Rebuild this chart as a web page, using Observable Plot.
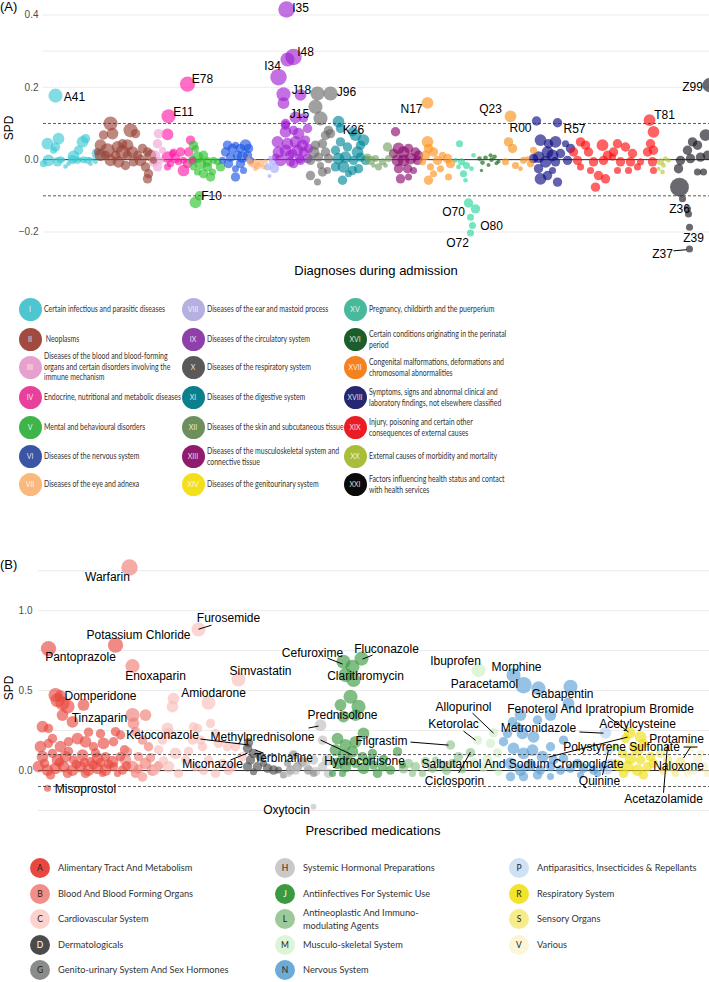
<!DOCTYPE html>
<html><head><meta charset="utf-8">
<script src="https://cdn.jsdelivr.net/npm/d3@7"></script>
<script src="https://cdn.jsdelivr.net/npm/@observablehq/plot@0.6"></script>
<style>
body{margin:0;background:#fff;}
#root{position:relative;width:709px;height:982px;overflow:hidden;background:#fff;font-family:"Liberation Sans",Arial,sans-serif;}
#root svg{position:absolute;left:0;}
.abs{position:absolute;white-space:nowrap;color:#000;}
.tag{font-size:13px;line-height:16px;}
.ytitle{font-size:12px;transform:translate(-50%,-50%) rotate(-90deg);}
.xtitle{font-size:13px;transform:translate(-50%,-50%);}
.lg-dot{position:absolute;border-radius:50%;display:flex;align-items:center;justify-content:center;font-family:Lato,sans-serif;}
.lg-txt{position:absolute;font-family:Lato,sans-serif;color:#333;white-space:pre;transform:translateY(-50%);transform-origin:left center;}
</style></head>
<body><div id="root"></div>
<script>
// ---------------- Panel A: diagnoses ----------------
const diagChapters = ["I","II","III","IV","V","VI","VII","VIII","IX","X","XI","XII","XIII","XIV","XV","XVI","XVII","XVIII","XIX","XX","XXI"];
const diagChapterNames = [
  "Certain infectious and parasitic diseases",
  " Neoplasms",
  "Diseases of the blood and blood-forming\norgans and certain disorders involving the\nimmune mechanism",
  "Endocrine, nutritional and metabolic diseases",
  "Mental and behavioural disorders",
  "Diseases of the nervous system",
  "Diseases of the eye and adnexa",
  "Diseases of the ear and mastoid process",
  "Diseases of the circulatory system",
  "Diseases of the respiratory system",
  "Diseases of the digestive system",
  "Diseases of the skin and subcutaneous tissue",
  "Diseases of the musculoskeletal system and\nconnective tissue",
  "Diseases of the genitourinary system",
  "Pregnancy, childbirth and the puerperium",
  "Certain conditions originating in the perinatal\nperiod",
  "Congenital malformations, deformations and\nchromosomal abnormalities",
  "Symptoms, signs and abnormal clinical and\nlaboratory findings, not elsewhere classified",
  "Injury, poisoning and certain other\nconsequences of external causes",
  "External causes of morbidity and mortality",
  "Factors influencing health status and contact\nwith health services"
];
const diagLegendColors = ["#4fc6cf","#a04a40","#e7a1cf","#e8409d","#3db54a","#3a55a6","#f9b87c","#b4b1e1","#8f3fa9","#595959","#0b7f8c","#6c8f5b","#8e1b6b","#f3e01b","#49b99b","#1b5e2b","#f48221","#242870","#ec1c24","#a9bd3b","#0b0b0b"];
const diagPointColors = ["#3cc8d4","#9a4436","#f0a2d8","#ff1aa6","#2cc02c","#1a55e4","#ffae6a","#a6a6ff","#a020d2","#6a6a6a","#00869a","#73a262","#8c0a6e","#ff921c","#2ad49e","#0a640a","#f5921a","#0a0a80","#ff0a0a","#b4c83a","#14141e"];
// [chapter, code order, SPD, n]
const diagPoints = [
["I",12,0.177,180],["I",4,0.044,125],["I",15,0.058,125],["I",12,0.035,80],["I",10,0.026,45],["I",5,-0.002,125],["I",14,-0.006,80],["I",22,-0.019,20],["I",29,0,80],["I",30,0.009,125],["I",34,-0.002,45],["I",35,0.026,80],["I",39,0.049,125],["I",42,0.058,80],["I",44,-0.002,45],["I",47,-0.011,20],["I",52,-0.006,20],["I",54,0.017,125],["I",17,0,45],["I",25,-0.011,20],["I",40,0,45],["I",0,-0.011,45],["I",20,0,15],["I",37,0,15],["I",49,0,15],["I",46,0.002,15],
["II",67,0.1,180],["II",69,0.072,125],["II",60,0.068,80],["II",87,0.081,180],["II",92,0.072,80],["II",57,0.04,125],["II",64,0.026,180],["II",74,0.035,125],["II",79,0.021,180],["II",84,0.04,125],["II",89,0.021,125],["II",94,0.012,80],["II",99,0.031,80],["II",104,0.021,80],["II",107,0.012,125],["II",57,0.012,125],["II",67,-0.002,125],["II",75,-0.006,125],["II",82,-0.016,80],["II",90,-0.006,80],["II",97,-0.002,125],["II",102,-0.02,80],["II",105,-0.039,80],["II",104,-0.053,80],["II",62,0.012,80],["II",84,0.012,80],["II",72,0.012,80],["II",54,0.021,45],["II",110,-0.002,45],["II",79,0.044,80],
["III",115,0.072,80],["III",114,0.044,80],["III",112,0.012,80],["III",114,-0.02,80],["III",117,-0.002,45],["III",119,0.026,45],["III",110,-0.006,80],
["IV",144,0.209,210],["IV",125,0.12,180],["IV",124,0.07,125],["IV",124,0.007,125],["IV",129,0.017,45],["IV",132,0.003,80],["IV",137,0.021,80],["IV",140,-0.03,125],["IV",140,-0.002,45],["IV",135,-0.006,45],["IV",147,0.054,80],["IV",145,0.021,80],["IV",144,-0.011,80],["IV",124,-0.02,45],["IV",130,0.021,45],["IV",149,-0.002,45],["IV",127,-0.011,45],
["V",152,-0.118,125],["V",156,-0.1,80],["V",150,0.04,80],["V",152,0.031,45],["V",154,0.007,125],["V",160,0.012,80],["V",157,-0.011,125],["V",164,-0.02,80],["V",167,-0.048,80],["V",160,-0.039,80],["V",154,-0.034,45],["V",170,-0.002,45],["V",177,-0.02,80],["V",174,-0.006,45],["V",149,-0.002,80],["V",164,-0.006,80],["V",169,-0.034,45],["V",150,-0.02,45],
["VI",184,0.04,80],["VI",189,0.031,80],["VI",192,0.04,45],["VI",197,0.031,80],["VI",202,0.04,125],["VI",205,0.031,80],["VI",182,0.021,80],["VI",187,0.007,80],["VI",194,0.012,80],["VI",199,0.007,125],["VI",204,0.012,80],["VI",185,-0.011,80],["VI",192,-0.025,45],["VI",192,-0.048,80],["VI",197,-0.011,80],["VI",207,-0.002,45],["VI",179,-0.002,45],["VI",200,-0.03,45],
["VII",207,-0.008,45],["VII",210,-0.01,80],["VII",214,-0.017,45],["VII",217,-0.01,45],["VII",220,-0.02,20],["VII",212,-0.025,20],["VII",205,0.002,20],["VII",222,-0.005,20],
["VIII",224,-0.02,45],["VIII",226,-0.045,15],["VIII",229,-0.005,45],["VIII",231,-0.024,80],["VIII",227,0.004,20],
["IX",243,0.415,245],["IX",250,0.284,245],["IX",244,0.277,180],["IX",235,0.228,245],["IX",240,0.181,180],["IX",257,0.179,125],["IX",240,0.156,125],["IX",252,0.117,125],["IX",242,0.095,80],["IX",260,0.115,80],["IX",242,0.1,80],["IX",242,0.077,125],["IX",250,0.081,80],["IX",255,0.072,125],["IX",264,0.086,80],["IX",234,0.049,125],["IX",244,0.044,125],["IX",252,0.049,125],["IX",259,0.04,125],["IX",262,0.054,80],["IX",235,0.021,125],["IX",242,0.026,125],["IX",249,0.017,80],["IX",254,0.026,125],["IX",260,0.021,80],["IX",265,0.031,80],["IX",237,-0.002,125],["IX",247,-0.006,80],["IX",250,-0.011,80],["IX",257,-0.002,80],["IX",264,0.003,80],["IX",232,0.007,45],["IX",246,0.012,80],["IX",256,0.003,80],
["X",287,0.183,180],["X",274,0.183,180],["X",272,0.146,180],["X",277,0.114,180],["X",285,0.081,80],["X",282,0.067,80],["X",287,0.072,80],["X",272,0.04,80],["X",279,0.044,80],["X",270,0.021,125],["X",282,0.021,80],["X",267,-0.002,80],["X",275,0.007,80],["X",285,0.003,80],["X",277,-0.016,45],["X",279,-0.034,80],["X",267,-0.044,80],["X",274,-0.062,45],["X",284,-0.03,45],
["XI",295,0.105,125],["XI",297,0.086,80],["XI",309,0.077,80],["XI",312,0.068,125],["XI",320,0.054,125],["XI",317,0.04,80],["XI",297,0.049,80],["XI",292,0.026,80],["XI",304,0.035,80],["XI",314,0.021,125],["XI",295,0.003,125],["XI",302,0.007,125],["XI",310,-0.002,80],["XI",317,0.007,80],["XI",292,-0.02,80],["XI",300,-0.02,125],["XI",309,-0.03,80],["XI",315,-0.025,80],["XI",299,-0.057,80],["XI",305,-0.039,45],["XI",322,-0.002,80],
["XII",324,0.007,45],["XII",327,-0.002,80],["XII",332,0.003,45],["XII",335,-0.02,45],["XII",339,-0.006,45],["XII",344,0.035,80],["XII",345,0.003,45],["XII",342,-0.016,20],["XII",330,-0.016,20],["XII",349,0.017,20],
["XIII",352,0.077,80],["XIII",350,0.017,80],["XIII",355,0.031,125],["XIII",360,0.021,125],["XIII",365,0.031,80],["XIII",372,0.021,80],["XIII",354,-0.002,125],["XIII",360,-0.002,125],["XIII",367,0.003,125],["XIII",374,-0.002,80],["XIII",355,-0.025,80],["XIII",364,-0.025,80],["XIII",357,-0.053,80],["XIII",365,-0.048,45],["XIII",370,-0.03,45],["XIII",375,0.012,80],
["XIV",384,0.157,125],["XIV",384,0.049,125],["XIV",385,0.031,80],["XIV",382,0.012,80],["XIV",390,0.021,80],["XIV",394,-0.002,80],["XIV",399,0.012,45],["XIV",404,0.003,80],["XIV",407,-0.011,80],["XIV",387,-0.02,45],["XIV",390,-0.039,45],["XIV",385,-0.057,80],["XIV",397,-0.025,45],["XIV",405,-0.048,45],["XIV",379,-0.006,45],
["XV",425,-0.12,80],["XV",432,-0.136,80],["XV",427,-0.159,45],["XV",429,-0.182,45],["XV",427,-0.203,45],["XV",416,0.044,45],["XV",418,-0.006,45],["XV",423,-0.016,45],["XV",415,-0.02,20],["XV",420,-0.039,45],["XV",430,0.012,20],["XV",428,-0.025,20],["XV",422,-0.057,20],["XV",412,-0.002,20],
["XVI",436,0.003,20],["XVI",439,-0.008,20],["XVI",442,0.005,20],["XVI",445,-0.015,15],["XVI",448,0,20],["XVI",451,0.008,20],["XVI",455,-0.005,15],["XVI",438,-0.03,10],["XVI",447,0.012,15],["XVI",453,-0.01,15],
["XVII",467,0.12,125],["XVII",465,0.049,80],["XVII",469,0.031,80],["XVII",490,0.026,45],["XVII",462,-0.006,45],["XVII",472,-0.016,45],["XVII",480,-0.002,45],["XVII",487,-0.011,45],["XVII",477,-0.025,20],["XVII",484,0.003,20],
["XVIII",493,0.107,80],["XVIII",514,0.102,80],["XVIII",497,0.054,125],["XVIII",505,0.044,80],["XVIII",512,0.049,125],["XVIII",522,0.044,45],["XVIII",527,0.031,80],["XVIII",495,0.007,125],["XVIII",504,0.021,125],["XVIII",509,0.012,125],["XVIII",517,0.017,80],["XVIII",502,-0.006,125],["XVIII",512,-0.006,80],["XVIII",524,-0.002,80],["XVIII",495,-0.025,80],["XVIII",497,-0.053,125],["XVIII",504,-0.044,80],["XVIII",514,-0.062,80],["XVIII",509,-0.03,45],["XVIII",490,0.003,80],
["XIX",606,0.109,125],["XIX",610,0.077,125],["XIX",537,0.049,80],["XIX",542,0.04,80],["XIX",559,0.04,125],["XIX",574,0.044,80],["XIX",582,0.035,80],["XIX",607,0.044,80],["XIX",530,0.021,80],["XIX",545,0.021,80],["XIX",564,0.012,80],["XIX",570,0.021,80],["XIX",589,0.017,80],["XIX",604,0.021,80],["XIX",610,0.026,80],["XIX",534,-0.002,80],["XIX",550,-0.006,80],["XIX",560,-0.002,80],["XIX",577,-0.006,80],["XIX",587,-0.006,80],["XIX",597,-0.006,45],["XIX",609,-0.006,80],["XIX",537,-0.02,45],["XIX",555,-0.044,80],["XIX",562,-0.053,80],["XIX",552,-0.076,80],["XIX",574,-0.03,45],["XIX",585,-0.03,45],["XIX",594,-0.02,45],["XIX",610,-0.03,45],["XIX",569,0.007,45],["XIX",547,-0.03,45],
["XX",617,-0.006,45],["XX",620,-0.016,20],["XX",622,0.003,20],["XX",619,-0.034,20],["XX",625,-0.002,20],["XX",615,-0.025,15],
["XXI",666,0.206,180],["XXI",662,0.068,125],["XXI",649,0.049,80],["XXI",654,0.04,80],["XXI",644,0.026,80],["XXI",637,-0.002,80],["XXI",647,0.003,80],["XXI",657,0.007,80],["XXI",664,0.012,80],["XXI",635,-0.025,80],["XXI",654,-0.034,45],["XXI",660,-0.034,45],["XXI",636,-0.076,320],["XXI",639,-0.108,45],["XXI",644,-0.136,45],["XXI",645,-0.15,45],["XXI",646,-0.187,45],["XXI",646,-0.247,45]
];
const diagLabels = [["A41",31,0.173],["E78",159,0.223],["E11",140,0.131],["F10",168,-0.102],["I34",229,0.259],["I35",257,0.42],["I48",262,0.298],["J18",258,0.192],["J15",256,0.126],["J96",303,0.187],["K26",310,0.081],["N17",368,0.139],["Q23",447,0.139],["R00",477,0.087],["R57",531,0.084],["T81",621,0.123],["O70",410,-0.144],["O80",448,-0.185],["O72",414,-0.23],["Z36",636,-0.138],["Z39",650,-0.216],["Z37",619,-0.26],["Z99",649,0.2]];
const diagLeaders = [[630,-0.252,643,-0.249]];
const diagYTicks = [-0.2,0,0.2,0.4];
const diagGrid = [-0.2,0.2,0.3,0.4];

// ---------------- Panel B: medications ----------------
const medGroups = ["A","B","C","D","G","H","J","L","M","N","P","R","S","V"];
const medGroupNames = ["Alimentary Tract And Metabolism","Blood And Blood Forming Organs","Cardiovascular System","Dermatologicals","Genito-urinary System And Sex Hormones","Systemic Hormonal Preparations","Antiinfectives For Systemic Use","Antineoplastic And Immuno-\nmodulating Agents","Musculo-skeletal System","Nervous System","Antiparasitics, Insecticides & Repellants","Respiratory System","Sensory Organs","Various"];
const medLegendColors = ["#e8483f","#f28d87","#fcd2ce","#4b4b4b","#8b8b8b","#c9c9c9","#3a9a40","#9dc99b","#def4d7","#6caad9","#d0e1f4","#f2e32b","#f6ec8c","#fbf6d8"];
const medLetterColors = ["#222","#222","#222","#fff","#222","#222","#fff","#222","#222","#222","#222","#222","#222","#222"];
const medPointColors = ["#e8483f","#f07d76","#f8bdb8","#4b4b4b","#8b8b8b","#bdbdbd","#3a9a40","#8fc28c","#cdeec4","#5aa0d6","#b8d2f0","#f0de10","#f3e77a","#f6f0c4"];
// [group, order, SPD, n]
const medPoints = [
["A",77,0.784,210],["A",10,0.763,210],["A",17,0.472,180],["A",19,0.44,180],["A",24,0.42,180],["A",29,0.4,180],["A",24,0.347,125],["A",34,0.305,125],["A",45,0.41,125],["A",22,0.465,125],["A",77,0.243,80],["A",4,0.274,125],["A",10,0.264,80],
["A",2,0.149,125],["A",10,0.17,80],["A",22,0.149,125],["A",30,0.18,80],["A",39,0.2,125],["A",47,0.18,125],["A",55,0.149,80],["A",65,0.17,125],["A",75,0.18,80],["A",82,0.222,80],["A",59,0.076,125],["A",4,0.087,125],["A",14,0.107,80],["A",19,0.066,125],["A",27,0.087,125],["A",35,0.066,80],["A",44,0.097,125],["A",52,0.055,80],["A",67,0.087,80],["A",74,0.055,125],["A",82,0.087,80],["A",0,0.024,125],["A",9,0.003,125],["A",17,0.014,125],["A",25,0.024,125],["A",34,0.003,125],["A",42,0.024,125],["A",50,0.003,125],["A",59,0.014,125],["A",67,0.003,125],["A",75,0.024,80],["A",84,0.003,80],["A",12,-0.028,80],["A",29,-0.018,80],["A",47,-0.018,80],["A",64,-0.018,45],["A",79,-0.018,45],["A",9,-0.111,45],
["A",6,0.045,80],["A",38,0.04,80],["A",55,0.035,80],["A",70,0.04,80],["A",88,0.03,80],["A",21,0.05,80],["A",46,0.05,80],["A",62,0.05,80],["A",30,0.12,80],["A",57,0.11,80],["A",86,0.13,80],["A",14,0.2,80],["A",50,0.24,80],["A",62,0.23,80],
["B",91,1.27,245],["B",94,0.653,180],["B",94,0.347,180],["B",95,0.295,125],["B",107,0.347,125],["B",87,0.066,125],["B",94,0.024,125],["B",100,0.087,80],["B",107,0.045,125],["B",114,0.003,125],["B",97,-0.018,80],["B",89,0.118,80],["B",110,0.149,80],["B",104,0.19,80],["B",97,0.243,80],["B",100,0.01,80],["B",112,0.08,80],["B",120,0.03,80],["B",104,-0.04,80],
["C",160,0.882,180],["C",200,0.57,180],["C",170,0.424,180],["C",135,0.45,125],["C",134,0.4,125],["C",129,0.264,125],["C",130,0.232,125],["C",124,0.19,80],["C",159,0.264,80],["C",172,0.295,80],["C",177,0.232,80],["C",154,0.19,80],["C",164,0.149,80],["C",180,0.17,80],["C",137,0.107,125],["C",147,0.066,80],["C",157,0.024,80],["C",170,0.066,80],["C",184,0.045,80],["C",130,0.024,125],["C",140,-0.018,80],["C",117,0.003,80],["C",104,-0.039,80],["C",177,-0.018,80],["C",194,0.024,80],["C",197,0.149,80],["C",204,0.087,80],["C",155,0.274,80],["C",162,0.19,80],["C",189,0.149,80],["C",125,0.06,80],["C",150,0.12,80],["C",120,0.13,80],["C",165,0,80],["C",190,0,80],
["D",210,0.174,80],["D",209,0.139,80],["D",215,0.107,80],["D",222,0.086,80],["D",212,0.066,80],["D",209,0.024,80],["D",219,0.024,80],["D",229,0.014,80],["D",235,0.003,80],["D",240,0.003,45],["D",215,-0.007,45],["D",225,0.045,45],
["G",245,-0.028,45],["G",252,0.003,80],["G",259,0.024,80],["G",264,0.055,80],["G",255,0.097,80],["G",270,0.003,80],["G",275,-0.018,45],["G",249,0.045,45],
["H",282,0.284,125],["H",284,0.19,80],["H",267,0.045,80],["H",275,0.066,80],["H",284,0.024,80],["H",289,0.066,125],["H",257,0.003,80],["H",250,-0.018,45],["H",290,-0.018,80],["H",277,-0.007,80],["H",275,-0.226,30],
["J",305,0.68,180],["J",314,0.649,180],["J",323,0.7,180],["J",307,0.597,180],["J",315,0.566,180],["J",312,0.462,180],["J",302,0.41,125],["J",320,0.399,180],["J",305,0.337,125],["J",317,0.347,125],["J",299,0.2,125],["J",307,0.16,125],["J",317,0.18,125],["J",325,0.232,125],["J",297,0.128,125],["J",305,0.097,125],["J",314,0.118,125],["J",324,0.087,80],["J",334,0.107,80],["J",299,0.045,125],["J",307,0.024,125],["J",317,0.045,80],["J",325,0.014,125],["J",335,0.034,80],["J",344,0.024,80],["J",352,0.003,80],["J",359,0.118,80],["J",294,-0.018,45],["J",304,-0.018,45],["J",339,-0.018,80],["J",364,0.034,45],["J",330,0.06,80],["J",345,0.07,80],["J",310,0.06,80],
["L",412,0.16,80],["L",432,0.112,80],["L",370,0.045,80],["L",377,0.024,80],["L",387,0.055,80],["L",394,0.014,80],["L",404,0.034,80],["L",414,0.045,80],["L",420,0.087,80],["L",374,-0.018,45],["L",397,0.066,45],["L",424,0.003,45],["L",384,-0.018,45],["L",365,0.01,80],["L",408,0,80],
["M",440,0.628,180],["M",439,0.19,80],["M",455,0.236,80],["M",452,0.17,80],["M",459,0.11,80],["M",449,0.07,80],["M",455,0.03,80],["M",460,-0.01,45],["M",445,0.02,80],["M",435,0.05,80],
["N",475,0.597,180],["N",485,0.534,245],["N",500,0.514,180],["N",532,0.524,180],["N",530,0.42,125],["N",512,0.347,125],["N",482,0.347,125],["N",499,0.316,80],["N",474,0.305,80],["N",469,0.232,80],["N",465,0.18,80],["N",484,0.232,125],["N",495,0.21,125],["N",512,0.149,80],["N",525,0.19,80],["N",475,0.139,125],["N",485,0.107,125],["N",494,0.128,125],["N",504,0.087,125],["N",515,0.066,80],["N",525,0.076,80],["N",539,0.045,80],["N",472,0.045,125],["N",482,0.003,125],["N",492,0.034,125],["N",502,0.003,80],["N",512,0.024,80],["N",522,0.003,80],["N",532,0.014,80],["N",545,0.014,80],["N",555,0.003,80],["N",565,0.024,80],["N",472,-0.038,80],["N",485,-0.038,80],["N",499,-0.028,80],["N",512,-0.038,45],["N",542,-0.028,45],["N",559,-0.018,45],["N",479,0.274,80],
["P",567,0.236,125],["P",570,0.128,80],["P",572,0.045,80],["P",569,0.003,80],
["R",591,0.236,125],["R",587,0.2,80],["R",602,0.21,125],["R",605,0.17,80],["R",599,0.128,125],["R",584,0.107,80],["R",592,0.076,125],["R",602,0.066,80],["R",612,0.086,80],["R",579,0.034,125],["R",589,0.024,125],["R",599,0.003,125],["R",609,0.024,80],["R",615,0.045,80],["R",585,-0.018,80],["R",605,-0.028,80],["R",595,0.149,80],["R",577,0.149,45],
["S",622,0.107,80],["S",629,0.066,80],["S",632,0.024,80],["S",625,0.003,80],["S",637,-0.018,45],["S",642,0.055,80],["S",629,0.139,45],
["V",652,0.149,80],["V",659,0.066,80],["V",665,0.024,80],["V",655,0.003,80],["V",669,-0.018,45],["V",649,-0.018,45],["V",662,0.107,45]
];
const medLabels = [["Warfarin",69,1.209],["Furosemide",190,0.953],["Potassium Chloride",100,0.847],["Pantoprazole",42,0.709],["Enoxaparin",117,0.59],["Simvastatin",222,0.622],["Amiodarone",175,0.484],["Domperidone",62,0.466],["Tinzaparin",61,0.328],["Ketoconazole",124,0.222],["Methylprednisolone",224,0.209],["Miconazole",174,0.041],["Terbinafine",245,0.078],["Misoprostol",47,-0.116],["Oxytocin",248,-0.247],["Cefuroxime",274,0.734],["Fluconazole",348,0.759],["Clarithromycin",327,0.59],["Prednisolone",304,0.347],["Hydrocortisone",326,0.059],["Filgrastim",343,0.184],["Ibuprofen",417,0.684],["Morphine",478,0.647],["Paracetamol",446,0.54],["Gabapentin",524,0.478],["Allopurinol",425,0.397],["Fenoterol And Ipratropium Bromide",562,0.384],["Ketorolac",415,0.29],["Metronidazole",500,0.266],["Acetylcysteine",599,0.29],["Polystyrene Sulfonate",583,0.147],["Protamine",638,0.197],["Salbutamol And Sodium Cromoglicate",484,0.041],["Naloxone",640,0.028],["Quinine",561,-0.066],["Ciclosporin",416,-0.066],["Acetazolamide",625,-0.178]];
const medLeaders = [[160,0.884,173,0.909],[162,0.197,210,0.16],[192,0.066,209,0.109],[217,0.128,225,0.109],[282,0.191,314,0.097],[270,0.266,280,0.278],[289,0.703,304,0.666],[324,0.697,334,0.722],[372,0.178,410,0.159],[434,0.359,455,0.234],[425,0.247,437,0.19],[569,0.341,590,0.241],[541,0.241,565,0.234],[510,0.084,589,0.209],[645,0.147,659,0.147],[645,0.078,652,0.147],[564,-0.028,570,0.128],[420,-0.016,432,0.116],[625,-0.139,629,0.159]];
const medYTicks = [0,0.5,1];
const medGrid = [-0.25,0.25,0.5,0.75,1,1.25];

const thresholds = [-0.1, 0.1];

// ---------------- drawing ----------------
const root = document.getElementById("root");
const toPts = arr => arr.map(([g,x,y,n]) => ({g,x,y,n}));
const toLabels = arr => arr.map(([t,x,y]) => ({t,x,y}));
const toLinks = arr => arr.map(([x1,y1,x2,y2]) => ({x1,y1,x2,y2}));

function panel(o) {
  return Plot.plot({
    width: 709, height: o.height, marginLeft: o.marginLeft, marginRight: 0, marginTop: 0, marginBottom: 0,
    style: {background: "transparent", overflow: "visible", fontFamily: "'Liberation Sans', Arial, sans-serif", fontSize: "10px", color: "#4d4d4d"},
    x: {domain: o.xDomain, axis: null},
    y: {domain: o.yDomain, ticks: o.ticks, tickSize: 0, tickPadding: o.tickPadding, tickFormat: d3.format(".1f"), label: null},
    r: {type: "sqrt", domain: [0, 400], range: [0, 10.5]},
    color: {domain: o.groups, range: o.colors},
    marks: [
      Plot.ruleY(o.grid, {stroke: "#ebebeb", strokeWidth: 1}),
      Plot.ruleY([0], {stroke: "#111", strokeWidth: 0.9}),
      Plot.dot(toPts(o.points), {x: "x", y: "y", r: "n", fill: "g", fillOpacity: o.opacity, stroke: "none"}),
      Plot.ruleY(thresholds, {stroke: "#333", strokeWidth: 0.8, strokeDasharray: "3,2"}),
      Plot.link(toLinks(o.leaders), {x1: "x1", y1: "y1", x2: "x2", y2: "y2", stroke: "#000", strokeWidth: 1}),
      Plot.text(toLabels(o.labels), {x: "x", y: "y", text: "t", fill: "#000", fontSize: 12})
    ]
  });
}

const svgA = panel({height: 255, marginLeft: 43, tickPadding: 5, xDomain: [0, 666], yDomain: [-0.265, 0.44], ticks: diagYTicks, grid: diagGrid,
  groups: diagChapters, colors: diagPointColors, points: diagPoints, labels: diagLabels, leaders: diagLeaders, opacity: 0.64});
svgA.style.top = "0px";
root.appendChild(svgA);

const svgB = panel({height: 259, marginLeft: 38, tickPadding: 6, xDomain: [0, 671], yDomain: [-0.3, 1.32], ticks: medYTicks, grid: medGrid,
  groups: medGroups, colors: medPointColors, points: medPoints, labels: medLabels, leaders: medLeaders, opacity: 0.64});
svgB.style.top = "559px";
root.appendChild(svgB);

function addText(txt, cls, x, y, extra) {
  const d = document.createElement("div");
  d.className = "abs " + cls;
  d.textContent = txt;
  d.style.left = x + "px"; d.style.top = y + "px";
  if (extra) Object.assign(d.style, extra);
  root.appendChild(d);
}
addText("(A)", "tag", 0, -1);
addText("(B)", "tag", 0, 557);
addText("SPD", "ytitle", 9, 128);
addText("SPD", "ytitle", 9, 688);
addText("Diagnoses during admission", "xtitle", 376, 270);
addText("Prescribed medications", "xtitle", 373, 830);

function legend(items, cfg) {
  items.forEach((it, i) => {
    const col = cfg.colOf(i), row = cfg.rowOf(i);
    const cx = cfg.cols[col], cy = cfg.rows[row];
    const dot = document.createElement("div");
    dot.className = "lg-dot";
    Object.assign(dot.style, {left: (cx - cfg.r) + "px", top: (cy - cfg.r) + "px", width: 2*cfg.r + "px", height: 2*cfg.r + "px",
      background: it.color, color: it.ink, fontSize: cfg.keySize + "px"});
    dot.textContent = it.key;
    root.appendChild(dot);
    const t = document.createElement("div");
    t.className = "lg-txt";
    Object.assign(t.style, {left: (cx + cfg.gap) + "px", top: cy + "px", fontSize: cfg.fontSize + "px", lineHeight: cfg.lineHeight + "px",
      transform: "translateY(-50%) scaleX(" + cfg.sx + ")"});
    t.textContent = it.name;
    root.appendChild(t);
  });
}
legend(diagChapters.map((k, i) => ({key: k, name: diagChapterNames[i], color: diagLegendColors[i], ink: "rgba(255,255,255,0.85)"})),
  {cols: [30, 193, 355], rows: [309, 339, 367, 397, 427, 456, 484], colOf: i => Math.floor(i / 7), rowOf: i => i % 7,
   r: 11.5, gap: 14, fontSize: 9, lineHeight: 10.5, keySize: 7, sx: 0.77});
legend(medGroups.map((k, i) => ({key: k, name: medGroupNames[i], color: medLegendColors[i], ink: medLetterColors[i]})),
  {cols: [40, 285, 519], rows: [868, 893.5, 919, 944.5, 970], colOf: i => (i < 5 ? 0 : i < 10 ? 1 : 2), rowOf: i => (i < 5 ? i : i < 10 ? i - 5 : i - 10),
   r: 10, gap: 18, fontSize: 9.5, lineHeight: 12.5, keySize: 8.5, sx: 0.97});
</script>
</body></html>
